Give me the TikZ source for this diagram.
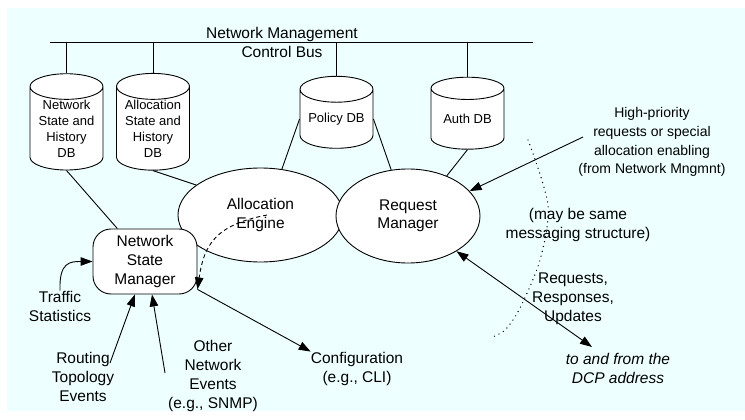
\documentclass[tikz,border=0pt]{standalone}
\usepackage{fontspec}
\setmainfont{Liberation Sans}
\usetikzlibrary{
  arrows.meta,
  shapes.geometric
}
\definecolor{paleblue}{RGB}{238,255,255}
\tikzset{
  % For the databases hanging off the bus.
  database/.style={
    shape=cylinder,
    shape border rotate=90,
    aspect=0.46,
    draw,
    fill=white,
    line width=0.9pt,
    minimum width=73pt,
    minimum height=79pt,
    inner sep=0pt,
    align=center,
    font=\fontsize{13}{16}\selectfont},
%
  % For the two central components.
  component/.style={
    ellipse,
    draw,
    fill=white,
    line width=0.9pt,
    inner sep=0pt,
    align=center,
    font=\fontsize{15.5}{18.5}\selectfont},
%
  % For the state manager.
  manager/.style={
    rectangle,
    rounded corners=18pt,
    draw,
    fill=white,
    line width=0.9pt,
    minimum width=104pt,
    minimum height=65pt,
    inner sep=0pt,
    align=center,
    font=\fontsize{15.5}{19}\selectfont},
%
  % For plain connections.
  line/.style={
    line width=0.9pt},
%
  % For inputs and outputs.
  arrow line/.style={
    line width=0.9pt,
    -{Triangle[length=12pt,width=8.5pt]}},
  both arrow line/.style={
    line width=0.9pt,
    {Triangle[length=12pt,width=8.5pt]}-{Triangle[length=12pt,width=8.5pt]}},
  dashed arrow line/.style={
    line width=0.9pt,
    dash pattern=on 4pt off 3pt,
    -{Triangle[length=12pt,width=8.5pt]}},
%
  % For the boundary between the two messaging sides.
  dotted line/.style={
    line width=1.4pt,
    line cap=round,
    dash pattern=on 0pt off 5pt},
%
  % For explanations.
  description/.style={
    inner sep=0pt,
    align=center,
    font=\fontsize{15.5}{19}\selectfont},
}

\begin{document}
\begin{tikzpicture}[x=1pt,y=-1pt]
  \useasboundingbox (0,0) rectangle (745,420);
  \fill[paleblue] (7,8) rectangle (745,411);

  \coordinate (busL) at (50,42);
  \coordinate (busR) at (533,42);
  \node[description] (bus) at (282,42) {Network Management\\Control Bus};

  \node[database] (cyl1) at (66.5,128.5) {Network\\State and\\History\\DB};
  \node[database] (cyl2) at (153,128.5) {Allocation\\State and\\History\\DB};
  \node[database, minimum height=72pt] (pol) at (336.5,119) {Policy DB};
  \node[database, minimum height=72pt] (auth) at (467.5,119) {Auth DB};

  \node[component, minimum width=165pt, minimum height=94pt] (ae)
    at (260.5,215) {Allocation\\Engine};
  \node[component, minimum width=144pt, minimum height=94pt] (rm)
    at (408,216) {Request\\Manager};

  \node[manager] (nsm) at (145,261.5) {Network\\State\\Manager};

  \node[description, font=\fontsize{14}{18.8}\selectfont] (hp) at (652,142)
    {High-priority\\requests or special\\allocation enabling\\(from Network Mngmnt)};
  \node[description] (same) at (578,224.5) {(may be same\\messaging structure)};
  \node[description] (req) at (573,298.5) {Requests,\\Responses,\\Updates};
  \node[description, font=\fontsize{15.5}{19}\selectfont\itshape] (dcp)
    at (618,368.5) {to and from the\\DCP address};
  \node[description] (conf) at (357,368.5) {Configuration\\(e.g., CLI)};
  \node[description] (traffic) at (60,306) {Traffic\\Statistics};
  \node[description] (routing) at (83,376.5) {Routing\\Topology\\Events};
  \node[description] (other) at (213,375.5) {Other\\Network\\Events\\(e.g., SNMP)};

  \coordinate (hpstart) at (583,137);
  \coordinate (dcpend) at (592,347);
  \coordinate (aestart) at (267,215);
  \coordinate (routestart) at (110,363);
  \coordinate (otherstart) at (165,373);

  \draw[line] (busL) -- (busR);
  \draw[line] (cyl1.north) -- (cyl1.north |- busL);
  \draw[line] (cyl2.north) -- (cyl2.north |- busL);
  \draw[line] (pol.north) -- (pol.north |- busL);
  \draw[line] (auth.north) -- (auth.north |- busL);

  \draw[line] (cyl1.south) -- (nsm.130);
  \draw[line] (cyl2.south) -- (ae.155);
  \draw[line] (pol.west) -- (ae.65);
  \draw[line] (pol.east) -- (rm.110);
  \draw[line] (auth.south) -- (rm.46);

  \draw[arrow line] (hpstart) -- (rm.22);
  \draw[both arrow line] (rm.-36) -- (dcpend);
  \draw[dashed arrow line] (aestart) .. controls (215,225) and (204,245) .. (nsm.-28);
  \draw[arrow line] (nsm.-28) -- (conf.north west);
  \draw[arrow line] (traffic.north) .. controls (59,262) and (70,261.5) .. (nsm.west);
  \draw[arrow line] (routestart) -- (nsm.-107);
  \draw[arrow line] (otherstart) -- (nsm.-78);

  \draw[dotted line] plot[smooth] coordinates
    {(528,140) (548,205) (540,260) (520,308) (505,330) (490,338)};
\end{tikzpicture}
\end{document}
